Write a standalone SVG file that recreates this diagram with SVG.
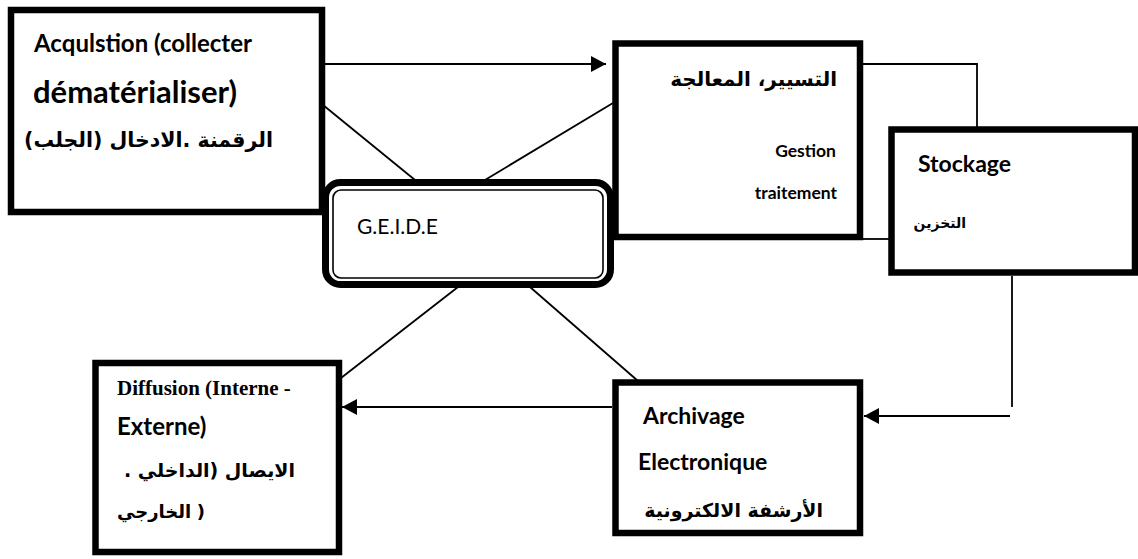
<svg xmlns="http://www.w3.org/2000/svg" width="1138" height="559" viewBox="0 0 1138 559">
<style>
.box{fill:#fff;stroke:#000;stroke-width:6.5}
.ln{fill:none;stroke:#000;stroke-width:1.8}
.lat{font-family:Lato,"Open Sans","Liberation Sans",sans-serif;font-weight:bold;fill:#000}
.ser{font-family:"Liberation Serif","Times New Roman",serif;font-weight:bold;fill:#000}
.ar{font-family:"DejaVu Sans","Noto Sans",sans-serif;font-weight:bold;fill:#000}
</style>
<defs>
<marker id="ah" viewBox="0 0 15 16" refX="15" refY="8" markerWidth="15" markerHeight="16" markerUnits="userSpaceOnUse" orient="auto">
<path d="M0,0 L15,8 L0,16 Z" fill="#000"/>
</marker>
</defs>
<rect width="1138" height="559" fill="#fff"/>
<g id="connectors">
<line class="ln" x1="325" y1="64" x2="606" y2="64" marker-end="url(#ah)"/>
<line class="ln" x1="323" y1="105" x2="415" y2="180"/>
<line class="ln" x1="485" y1="180" x2="613" y2="103"/>
<line class="ln" x1="458" y1="287" x2="341" y2="378"/>
<line class="ln" x1="530" y1="287" x2="638" y2="381"/>
<polyline class="ln" points="863,64 977,64 977,127"/>
<line class="ln" x1="862" y1="239" x2="889" y2="239"/>
<line class="ln" x1="1012" y1="276" x2="1012" y2="407"/>
<line class="ln" x1="1010" y1="416" x2="864" y2="416" marker-end="url(#ah)"/>
<line class="ln" x1="612" y1="407" x2="342" y2="407" marker-end="url(#ah)"/>
</g>
<g id="acquisition">
<rect class="box" x="11" y="10" width="311" height="202"/>
<text class="lat" x="34" y="52" font-size="24">Acqulstion (collecter</text>
<text class="lat" x="33" y="103" font-size="31">dématérialiser)</text>
<text class="ar" x="273" y="147" font-size="20.5" direction="rtl">الرقمنة .الادخال (الجلب)</text>
</g>
<g id="geide">
<rect x="325.5" y="182.5" width="285" height="102" rx="15" fill="#fff" stroke="#000" stroke-width="7"/>
<rect x="333" y="190" width="270" height="88" rx="8" fill="none" stroke="#000" stroke-width="1.6"/>
<text x="357" y="234" font-family="Lato,'Open Sans',sans-serif" font-size="21" fill="#000">G.E.I.D.E</text>
</g>
<g id="gestion">
<rect class="box" x="615.5" y="43.5" width="244.5" height="193.5"/>
<text class="ar" x="837" y="86" font-size="20" direction="rtl">التسيير، المعالجة</text>
<text class="lat" x="836" y="157" font-size="17.5" text-anchor="end">Gestion</text>
<text class="lat" x="837" y="199" font-size="17.5" text-anchor="end">traitement</text>
</g>
<g id="stockage">
<rect class="box" x="891.5" y="129.5" width="243.5" height="143"/>
<text class="lat" x="918" y="172" font-size="23">Stockage</text>
<text class="ar" x="966" y="228" font-size="14" direction="rtl">التخزين</text>
</g>
<g id="archivage">
<rect class="box" x="615.5" y="382.5" width="244.5" height="150.5"/>
<text class="lat" x="643" y="424" font-size="23">Archivage</text>
<text class="lat" x="638" y="470" font-size="23">Electronique</text>
<text class="ar" x="823" y="517" font-size="19" direction="rtl">الأرشفة الالكترونية</text>
</g>
<g id="diffusion">
<rect class="box" x="95.5" y="363" width="243.5" height="189"/>
<text class="ser" x="117" y="395" font-size="21">Diffusion (Interne -</text>
<text class="lat" x="117" y="435" font-size="24">Externe)</text>
<text class="ar" x="295" y="477" font-size="19" direction="rtl">الايصال (الداخلي .</text>
<text class="ar" x="117" y="518" font-size="18">الخارجي</text>
<text class="ar" x="205" y="518" font-size="18" text-anchor="end">)</text>
</g>
</svg>
